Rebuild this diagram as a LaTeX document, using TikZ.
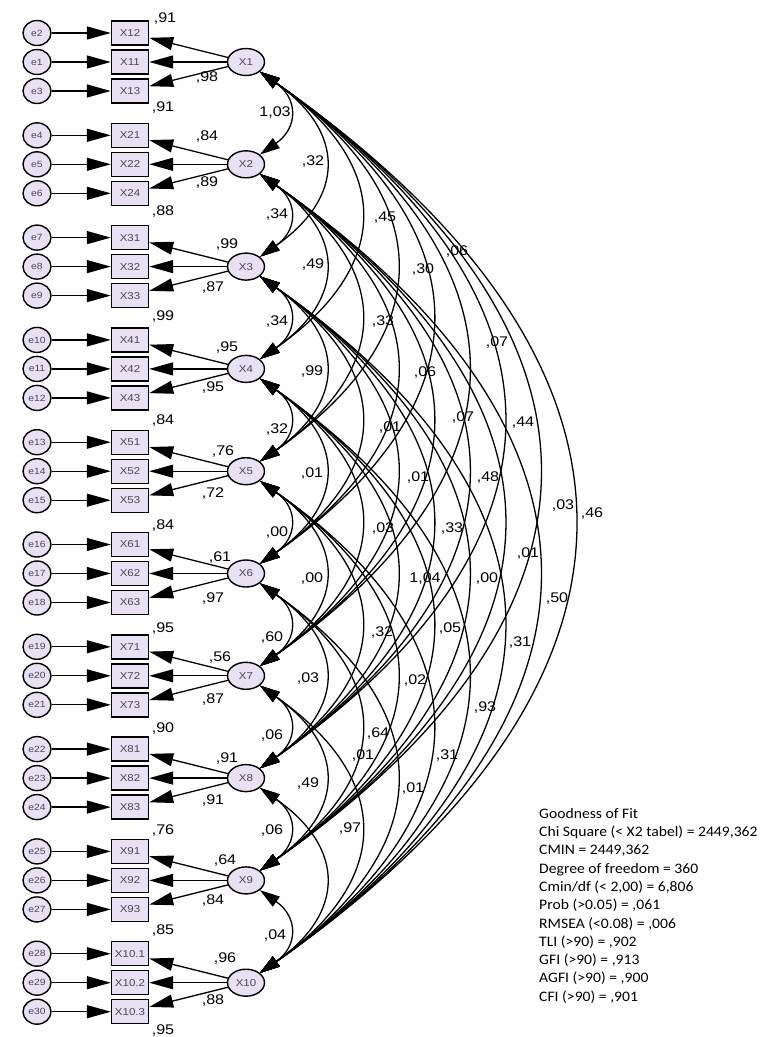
\documentclass[tikz,border=0pt]{standalone}
\usepackage{fontspec}
\setmainfont{Liberation Sans}
\newfontfamily\amosfont[FakeStretch=1.15]{Liberation Sans}
\newfontfamily\fitfont[FakeStretch=1.08]{Carlito}
\usepackage{tikz}
\usetikzlibrary{
  arrows.meta,
  shapes.geometric
}
\definecolor{latfill}{RGB}{232,225,243}
\definecolor{nodeink}{RGB}{75,70,85}

\begin{document}
\begin{tikzpicture}[x=1pt, y=-1pt,
  latent/.style={ellipse, draw, line width=1.4pt, fill=latfill,
                 minimum width=37pt, minimum height=27pt, inner sep=0pt,
                 text=nodeink, font=\amosfont\fontsize{10}{12}\selectfont},
  err/.style={ellipse, draw, line width=1.4pt, fill=latfill,
              minimum width=28pt, minimum height=25pt, inner sep=0pt,
              text=nodeink, font=\amosfont\fontsize{9}{11}\selectfont},
  item/.style={rectangle, draw, line width=1.4pt, fill=latfill,
               minimum width=37pt, minimum height=24pt, inner sep=0pt,
               text=nodeink, font=\amosfont\fontsize{10}{12}\selectfont},
  load/.style={-{Triangle[length=24pt, width=13pt]}, line width=1.3pt},
  cov/.style={{Triangle[length=20pt, width=12pt]}-{Triangle[length=20pt, width=12pt]},
              line width=1.3pt},
  est/.style={font=\amosfont\fontsize{14}{16}\selectfont, inner sep=0pt}
]
  \useasboundingbox (0,0) rectangle (782,1037);

  % Latent factors, their indicators and error terms
  \foreach \g/\na/\nb/\nc/\ea/\eb/\ec in {
      1/X12/X11/X13/e2/e1/e3,
      2/X21/X22/X24/e4/e5/e6,
      3/X31/X32/X33/e7/e8/e9,
      4/X41/X42/X43/e10/e11/e12,
      5/X51/X52/X53/e13/e14/e15,
      6/X61/X62/X63/e16/e17/e18,
      7/X71/X72/X73/e19/e20/e21,
      8/X81/X82/X83/e22/e23/e24,
      9/X91/X92/X93/e25/e26/e27,
      10/X10.1/X10.2/X10.3/e28/e29/e30}{
    \pgfmathsetmacro\yy{62+(\g-1)*102.3}
    \node[latent] (L\g) at (246,\yy) {X\g};
    \node[item] (I\g a) at (130,\yy-29) {\na};
    \node[item] (I\g b) at (130,\yy)    {\nb};
    \node[item] (I\g c) at (130,\yy+29) {\nc};
    \node[err]  (E\g a) at (37,\yy-29)  {\ea};
    \node[err]  (E\g b) at (37,\yy)     {\eb};
    \node[err]  (E\g c) at (37,\yy+29)  {\ec};
    \draw[load] (E\g a) -- (I\g a);
    \draw[load] (E\g b) -- (I\g b);
    \draw[load] (E\g c) -- (I\g c);
    \draw[load] (L\g) -- (I\g a);
    \draw[load] (L\g) -- (I\g b);
    \draw[load] (L\g) -- (I\g c);
  }

  % Covariances between all factors
  \foreach \i in {1,...,9}{
    \pgfmathtruncatemacro\k{\i+1}
    \foreach \j in {\k,...,10}
      \draw[cov] (L\i) to[bend left=55, looseness=1.45] (L\j);
  }

  % Loadings and squared multiple correlations
  \foreach \x/\y/\t [count=\n] in {
      165/19/{,91}, 207/78/{,98}, 163/108/{,91},
      207/137/{,84}, 207/183/{,89}, 163/212/{,88},
      227/245/{,99}, 213/288/{,87}, 163/317/{,99},
      227/348/{,95}, 213/388/{,95}, 163/420/{,84},
      223/452/{,76}, 213/493/{,72}, 163/525/{,84},
      220/557/{,61}, 213/598/{,97}, 163/628/{,95},
      220/657/{,56}, 213/699/{,87}, 163/728/{,90},
      227/758/{,91}, 213/800/{,91}, 163/830/{,76},
      225/860/{,64}, 213/900/{,84}, 163/930/{,85},
      225/958/{,96}, 213/1000/{,88}, 163/1030/{,95}}
    \node[est] (w\n) at (\x,\y) {\t};

  % Covariance estimates
  \foreach \x/\y/\t [count=\n] in {
      275/113/{1,03}, 313/162/{,32}, 277/215/{,34}, 313/265/{,49},
      277/322/{,34}, 385/218/{,45}, 423/270/{,30}, 457/252/{,06},
      383/322/{,33}, 497/343/{,07}, 312/372/{,99}, 425/373/{,06},
      463/417/{,07}, 523/423/{,44}, 277/430/{,32}, 390/427/{,01},
      312/473/{,01}, 418/477/{,01}, 488/477/{,48}, 277/532/{,00},
      383/528/{,03}, 452/528/{,33}, 563/505/{,03}, 592/513/{,46},
      528/553/{,01}, 312/578/{,00}, 425/578/{1,04}, 487/578/{,00},
      557/598/{,50}, 272/637/{,60}, 382/632/{,32}, 450/628/{,05},
      520/642/{,31}, 308/678/{,03}, 415/680/{,02}, 485/707/{,93},
      272/735/{,06}, 378/733/{,64}, 363/755/{,01}, 447/755/{,31},
      308/783/{,49}, 413/788/{,01}, 272/830/{,06}, 350/828/{,97},
      275/935/{,04}}
    \node[est] (c\n) at (\x,\y) {\t};

  % Fit indices
  \node[anchor=north west, align=left, inner sep=0pt,
        font=\fitfont\fontsize{14.5}{18.3}\selectfont] (gof) at (539,808)
    {Goodness of Fit\\
     Chi Square (< X2 tabel) = 2449,362\\
     CMIN = 2449,362\\
     Degree of freedom = 360\\
     Cmin/df (< 2,00) = 6,806\\
     Prob (>0.05) = ,061\\
     RMSEA (<0.08) = ,006\\
     TLI (>90) = ,902\\
     GFI (>90) = ,913\\
     AGFI (>90) = ,900\\
     CFI (>90) = ,901};
\end{tikzpicture}
\end{document}
